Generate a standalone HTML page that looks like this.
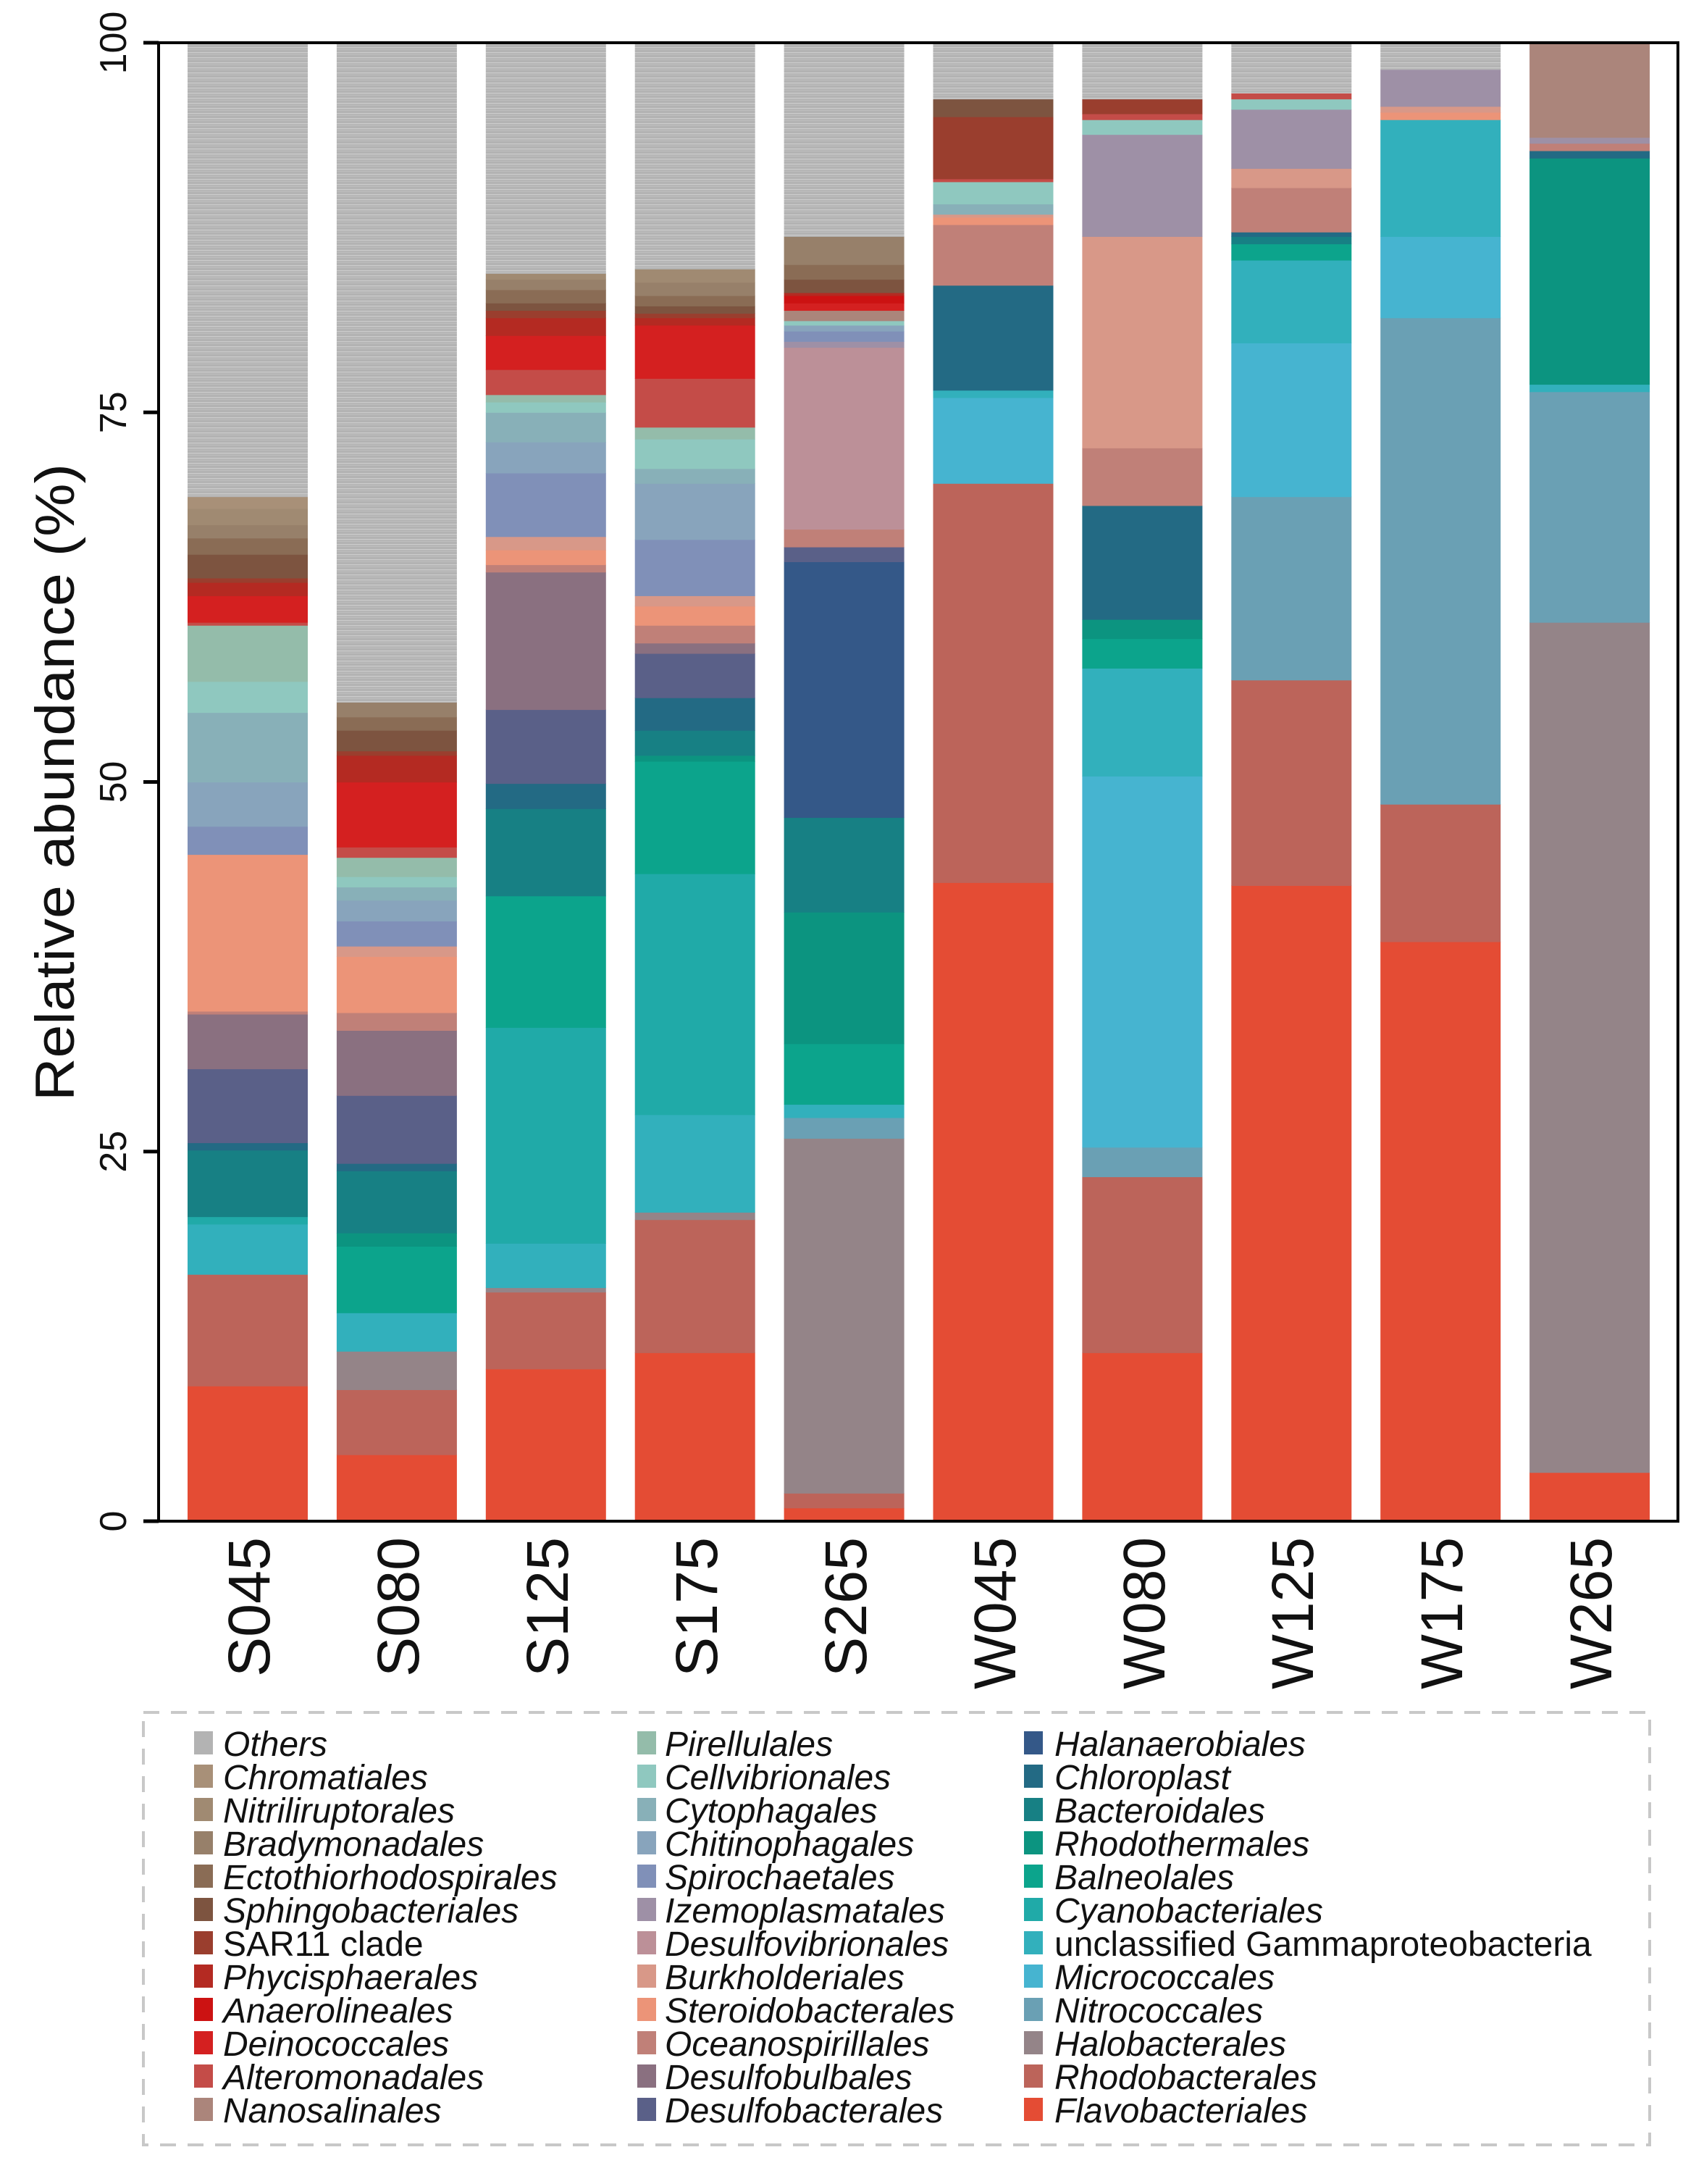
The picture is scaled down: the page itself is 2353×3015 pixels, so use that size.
<!DOCTYPE html>
<html><head><meta charset="utf-8"><style>
html,body{margin:0;padding:0;background:#fff;}
svg{display:block;}
text{font-family:"Liberation Sans",sans-serif;fill:#111;}
.lg text{font-style:italic;font-size:48px;}
</style></head><body>
<svg id="s" width="2353" height="3015" viewBox="0 0 2353 3015" xmlns="http://www.w3.org/2000/svg">
<defs>
<pattern id="oth" width="40" height="7" patternUnits="userSpaceOnUse">
<rect width="40" height="7" fill="#b3b3b3"/>
<rect y="2" width="40" height="1.3" fill="#cbcbcb"/>
<rect y="5" width="40" height="1" fill="#bebebe"/>
</pattern>
</defs>
<g id="bars"></g>
<rect x="219" y="59" width="2098" height="2041" fill="none" stroke="#000" stroke-width="4"/>
<g stroke="#000" stroke-width="5">
<line x1="198" y1="2100" x2="219" y2="2100"/><line x1="198" y1="1589.75" x2="219" y2="1589.75"/>
<line x1="198" y1="1079.5" x2="219" y2="1079.5"/><line x1="198" y1="569.25" x2="219" y2="569.25"/>
<line x1="198" y1="59" x2="219" y2="59"/>
</g>
<g font-size="52" text-anchor="middle">
<text transform="translate(174,2100) rotate(-90)">0</text>
<text transform="translate(174,1589.75) rotate(-90)">25</text>
<text transform="translate(174,1079.5) rotate(-90)">50</text>
<text transform="translate(174,569.25) rotate(-90)">75</text>
<text transform="translate(174,59) rotate(-90)">100</text>
</g>
<text transform="translate(102,1080) rotate(-90)" font-size="76" text-anchor="middle" textLength="880" lengthAdjust="spacingAndGlyphs">Relative abundance (%)</text>
<g font-size="82" text-anchor="end">
<text transform="translate(372,2122) rotate(-90)" textLength="193" lengthAdjust="spacingAndGlyphs">S045</text>
<text transform="translate(578,2122) rotate(-90)" textLength="193" lengthAdjust="spacingAndGlyphs">S080</text>
<text transform="translate(784,2122) rotate(-90)" textLength="193" lengthAdjust="spacingAndGlyphs">S125</text>
<text transform="translate(990,2122) rotate(-90)" textLength="193" lengthAdjust="spacingAndGlyphs">S175</text>
<text transform="translate(1196,2122) rotate(-90)" textLength="193" lengthAdjust="spacingAndGlyphs">S265</text>
<text transform="translate(1402,2122) rotate(-90)" textLength="210" lengthAdjust="spacingAndGlyphs">W045</text>
<text transform="translate(1608,2122) rotate(-90)" textLength="210" lengthAdjust="spacingAndGlyphs">W080</text>
<text transform="translate(1813,2122) rotate(-90)" textLength="210" lengthAdjust="spacingAndGlyphs">W125</text>
<text transform="translate(2019,2122) rotate(-90)" textLength="210" lengthAdjust="spacingAndGlyphs">W175</text>
<text transform="translate(2225,2122) rotate(-90)" textLength="210" lengthAdjust="spacingAndGlyphs">W265</text>
</g>
<rect x="198" y="2364" width="2080" height="597" fill="none" stroke="#c8c8c8" stroke-width="4" stroke-dasharray="22,16"/>
<g class="lg">
<g id="sq"></g>
<text x="308" y="2424">Others</text>
<text x="308" y="2470">Chromatiales</text>
<text x="308" y="2516">Nitriliruptorales</text>
<text x="308" y="2562">Bradymonadales</text>
<text x="308" y="2608">Ectothiorhodospirales</text>
<text x="308" y="2654">Sphingobacteriales</text>
<text x="308" y="2700" style="font-style:normal">SAR11 clade</text>
<text x="308" y="2746">Phycisphaerales</text>
<text x="308" y="2792">Anaerolineales</text>
<text x="308" y="2838">Deinococcales</text>
<text x="308" y="2884">Alteromonadales</text>
<text x="308" y="2930">Nanosalinales</text>
<text x="918" y="2424">Pirellulales</text>
<text x="918" y="2470">Cellvibrionales</text>
<text x="918" y="2516">Cytophagales</text>
<text x="918" y="2562">Chitinophagales</text>
<text x="918" y="2608">Spirochaetales</text>
<text x="918" y="2654">Izemoplasmatales</text>
<text x="918" y="2700">Desulfovibrionales</text>
<text x="918" y="2746">Burkholderiales</text>
<text x="918" y="2792">Steroidobacterales</text>
<text x="918" y="2838">Oceanospirillales</text>
<text x="918" y="2884">Desulfobulbales</text>
<text x="918" y="2930">Desulfobacterales</text>
<text x="1456" y="2424">Halanaerobiales</text>
<text x="1456" y="2470">Chloroplast</text>
<text x="1456" y="2516">Bacteroidales</text>
<text x="1456" y="2562">Rhodothermales</text>
<text x="1456" y="2608">Balneolales</text>
<text x="1456" y="2654">Cyanobacteriales</text>
<text x="1456" y="2700" style="font-style:normal">unclassified Gammaproteobacteria</text>
<text x="1456" y="2746">Micrococcales</text>
<text x="1456" y="2792">Nitrococcales</text>
<text x="1456" y="2838">Halobacterales</text>
<text x="1456" y="2884">Rhodobacterales</text>
<text x="1456" y="2930">Flavobacteriales</text>
</g>
</svg>
<script>
var C={oth:"url(#oth)",chr:"#a89078",nit:"#a08a72",bra:"#97806a",ect:"#8a6c55",sph:"#7d5440",sar:"#9a3e2e",phy:"#b42a22",ana:"#cc1212",dei:"#d42020",alt:"#c44c48",nan:"#ab857b",
pir:"#94bcaa",cel:"#8fc8bf",cyt:"#88b0b8",chi:"#88a4bc",spi:"#8090b8",ize:"#9e90a6",dsv:"#bc9098",bur:"#d89888",ste:"#ec9478",oce:"#c08078",dsb:"#8a7080",dba:"#5a6088",
hal:"#345888",chl:"#236a84",bac:"#178084",rho:"#0c9480",bal:"#0ca48c",cya:"#20aaa8",unc:"#32b0bc",mic:"#46b4d0",ntc:"#6aa0b4",hlb:"#948488",rdb:"#bc645a",fla:"#e44c34"};
var D=[
[["fla",9.15],["rdb",16.7],["unc",20.1],["cya",20.6],["bac",25.1],["chl",25.6],["dba",30.6],["dsb",34.3],["oce",34.5],["ste",45.1],["spi",47],["chi",50],["cyt",54.7],["cel",56.8],["pir",60.6],["alt",60.8],["dei",62.6],["phy",63.5],["sar",63.8],["sph",65.4],["ect",66.5],["bra",67.4],["nit",68.5],["chr",69.3],["oth",100]],
[["fla",4.5],["rdb",8.9],["hlb",11.5],["unc",14.1],["bal",18.6],["rho",19.5],["bac",23.7],["chl",24.2],["dba",28.8],["dsb",33.2],["oce",34.4],["ste",38.2],["bur",38.9],["spi",40.6],["chi",42],["cyt",42.9],["cel",43.6],["pir",44.9],["alt",45.6],["dei",50],["phy",51.8],["sar",52.1],["sph",53.5],["ect",54.4],["bra",55.4],["oth",100]],
[["fla",10.3],["rdb",15.5],["hlb",15.8],["unc",18.8],["cya",33.4],["bal",42.3],["bac",48.2],["chl",49.9],["dba",54.9],["dsb",64.2],["oce",64.7],["ste",65.7],["bur",66.6],["spi",70.9],["chi",73],["cyt",75],["cel",75.7],["pir",76.2],["alt",77.9],["dei",80.2],["phy",81.4],["sar",81.9],["sph",82.4],["ect",83.3],["bra",84],["nit",84.4],["oth",100]],
[["fla",11.4],["rdb",20.4],["hlb",20.9],["unc",27.5],["cya",43.8],["bal",51.4],["rho",51.8],["bac",53.5],["chl",55.7],["dba",58.7],["dsb",59.4],["oce",60.6],["ste",61.9],["bur",62.6],["spi",66.4],["chi",70.2],["cyt",71.2],["cel",73.2],["pir",74],["alt",77.3],["dei",80.9],["phy",81.4],["sar",81.7],["sph",82.2],["ect",82.9],["bra",83.8],["nit",84.7],["oth",100]],
[["fla",0.9],["rdb",1.9],["hlb",25.9],["ntc",27.3],["unc",28.2],["bal",32.3],["rho",41.2],["bac",47.6],["hal",64.9],["dba",65.9],["oce",67.1],["dsv",79.4],["ize",79.8],["spi",80.5],["chi",80.9],["cel",81.2],["nan",81.9],["dei",82.4],["ana",82.9],["phy",83.1],["sph",84],["ect",85],["bra",86.9],["oth",100]],
[["fla",43.2],["rdb",70.2],["mic",76],["unc",76.5],["chl",83.6],["oce",87.7],["ste",88.2],["bur",88.4],["cyt",89.1],["cel",90.6],["alt",90.8],["sar",95],["sph",96.2],["oth",100]],
[["fla",11.4],["rdb",23.3],["ntc",25.3],["mic",50.4],["unc",57.7],["bal",59.7],["rho",61],["chl",68.7],["oce",72.6],["bur",86.9],["ize",93.8],["cel",94.8],["alt",95.2],["sar",96.2],["oth",100]],
[["fla",43],["rdb",56.9],["ntc",69.3],["mic",79.7],["unc",85.3],["bal",86.4],["bac",86.9],["chl",87.2],["oce",90.2],["bur",91.5],["ize",95.5],["cel",96.2],["alt",96.6],["oth",100]],
[["fla",39.2],["rdb",48.5],["ntc",81.4],["mic",86.9],["unc",94.8],["ste",95.3],["bur",95.7],["ize",98.2],["oth",100]],
[["fla",3.3],["hlb",60.8],["ntc",76.4],["unc",76.9],["rho",92.2],["chl",92.7],["oce",93.2],["ize",93.6],["nan",100]]
];
var NS="http://www.w3.org/2000/svg",g=document.getElementById("bars");
function r(p,x,y,w,h,f){var e=document.createElementNS(NS,"rect");e.setAttribute("x",x);e.setAttribute("y",y);e.setAttribute("width",w);e.setAttribute("height",h);e.setAttribute("fill",f);p.appendChild(e);}
var B=2100,K=20.41;
D.forEach(function(bar,i){var x=259+i*205.9,prev=0;bar.forEach(function(s){var y1=B-s[1]*K,y0=B-prev*K;r(g,x,y1,166,y0-y1+0.6,C[s[0]]);prev=s[1];});});
var L=[["oth","chr","nit","bra","ect","sph","sar","phy","ana","dei","alt","nan"],["pir","cel","cyt","chi","spi","ize","dsv","bur","ste","oce","dsb","dba"],["hal","chl","bac","rho","bal","cya","unc","mic","ntc","hlb","rdb","fla"]];
var sq=document.getElementById("sq"),X=[268,880,1414];
L.forEach(function(col,c){col.forEach(function(k,j){r(sq,X[c],2390+j*46,26,32,k=="oth"?"#b3b3b3":C[k]);});});
</script>
</body></html>
